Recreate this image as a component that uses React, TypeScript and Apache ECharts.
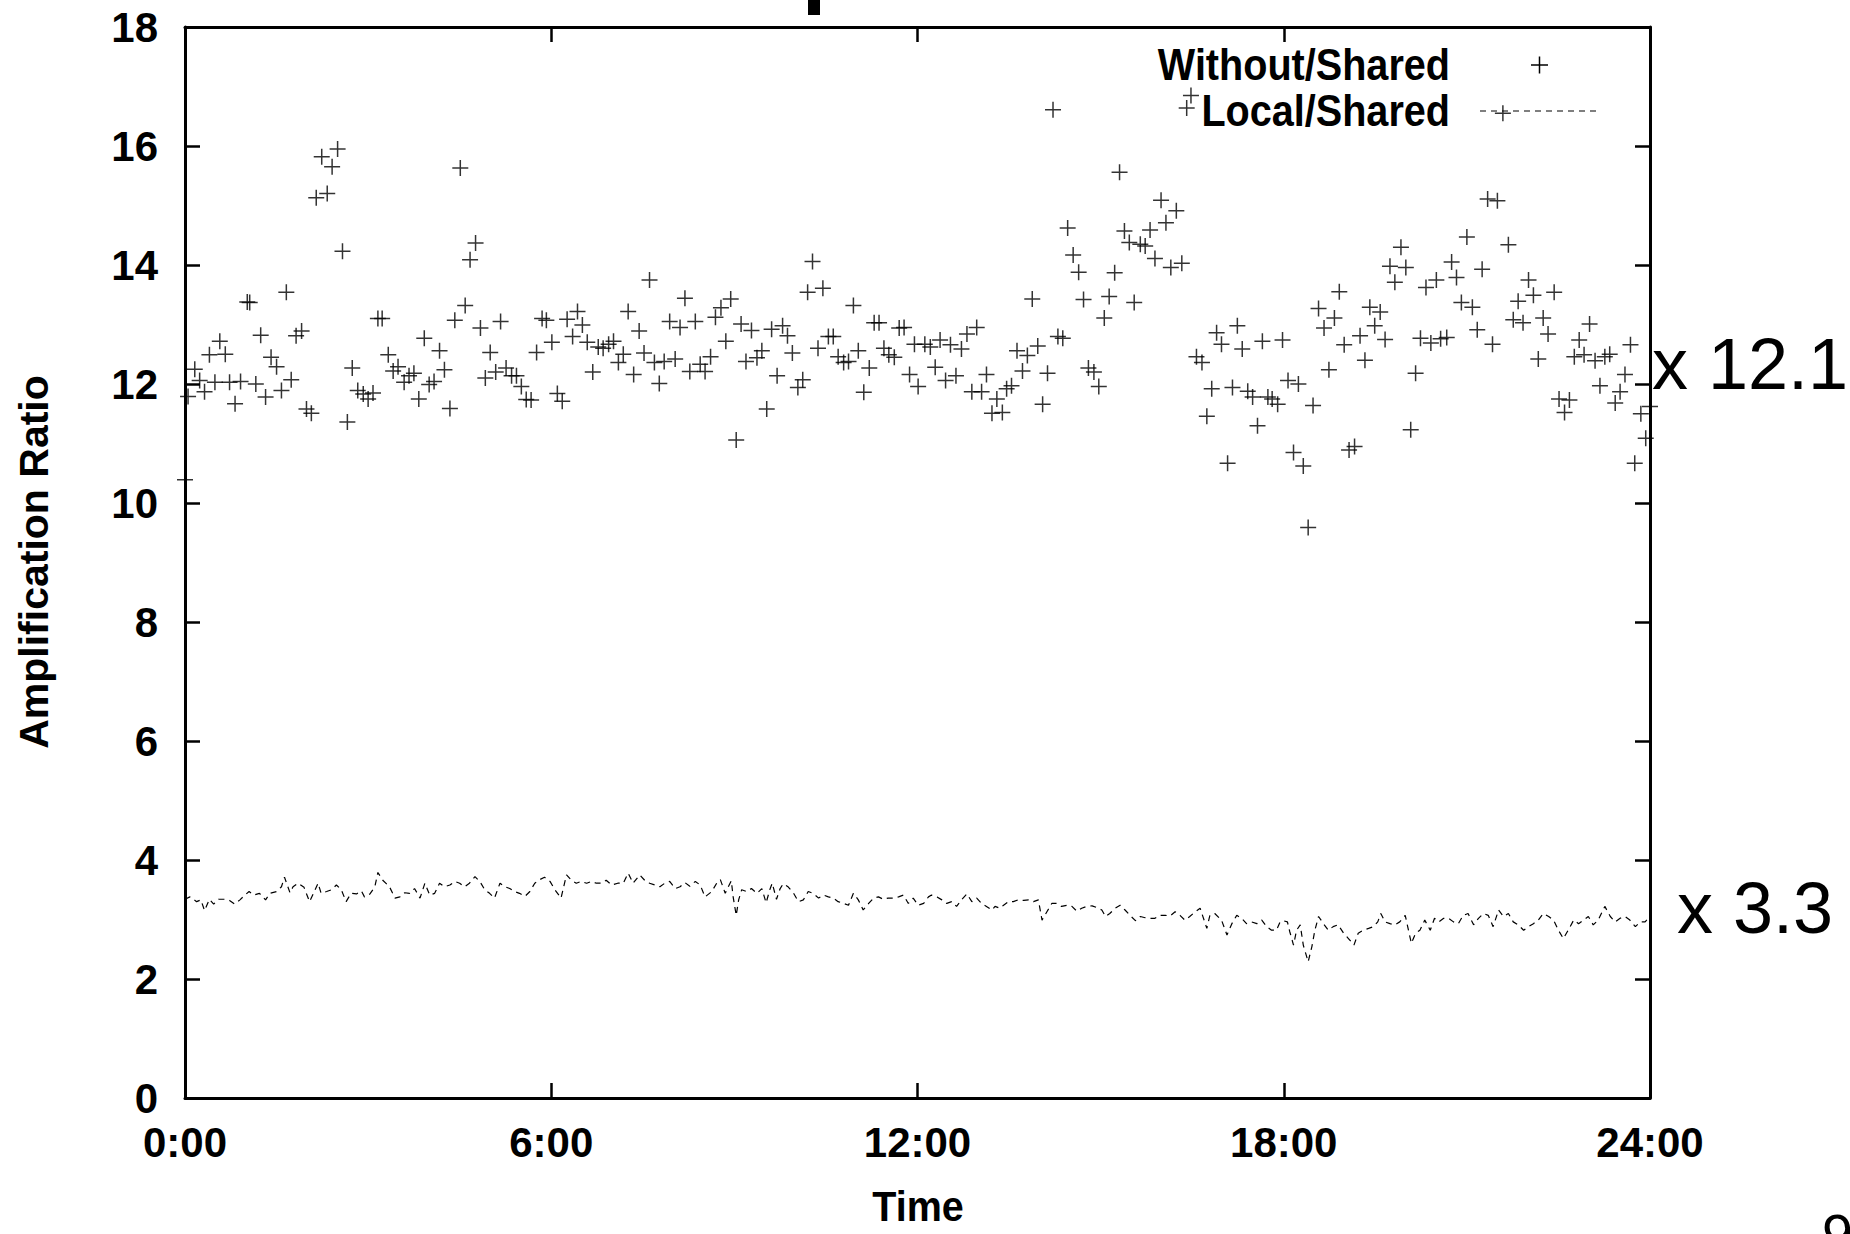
import React, { useEffect, useRef } from "react";
import * as echarts from "echarts";

// ---------- data (time in hours, ratio) ----------
const X_TICKS = [0, 6, 12, 18, 24];
const Y_MIN = 0;
const Y_MAX = 18;
const Y_STEP = 2;

const seriesNames = ["Without/Shared", "Local/Shared"];
const ratioNotes = ["x 12.1", "x 3.3"];

const withoutShared: [number, number][] = [
  [0.0, 10.39], [0.05, 11.79], [0.16, 12.25], [0.24, 12.06], [0.32, 11.87], [0.4, 12.49], [0.49, 12.03],
  [0.57, 12.72], [0.66, 12.5], [0.73, 12.03], [0.82, 11.67], [0.91, 12.04], [1.02, 13.38], [1.06, 13.37],
  [1.16, 12.0], [1.24, 12.82], [1.32, 11.78], [1.41, 12.45], [1.5, 12.29], [1.58, 11.89], [1.66, 13.54],
  [1.74, 12.07], [1.82, 12.81], [1.91, 12.89], [1.99, 11.58], [2.07, 11.51], [2.15, 15.13], [2.24, 15.82],
  [2.33, 15.2], [2.41, 15.65], [2.5, 15.95], [2.58, 14.23], [2.66, 11.36], [2.74, 12.27], [2.83, 11.89],
  [2.92, 11.83], [3.0, 11.75], [3.08, 11.85], [3.16, 13.1], [3.23, 13.1], [3.33, 12.49], [3.41, 12.22],
  [3.49, 12.29], [3.59, 12.03], [3.67, 12.14], [3.75, 12.18], [3.83, 11.75], [3.92, 12.77], [4.0, 11.99],
  [4.08, 12.04], [4.17, 12.56], [4.25, 12.24], [4.34, 11.59], [4.42, 13.07], [4.51, 15.63], [4.59, 13.32],
  [4.67, 14.09], [4.76, 14.37], [4.84, 12.94], [4.92, 12.1], [5.0, 12.53], [5.09, 12.2], [5.17, 13.05],
  [5.26, 12.27], [5.35, 12.14], [5.43, 12.14], [5.51, 11.96], [5.59, 11.74], [5.67, 11.73], [5.76, 12.53],
  [5.85, 13.1], [5.92, 13.07], [6.01, 12.7], [6.1, 11.84], [6.18, 11.71], [6.26, 13.09], [6.35, 12.8],
  [6.43, 13.22], [6.51, 12.99], [6.59, 12.7], [6.68, 12.2], [6.77, 12.62], [6.85, 12.6], [6.94, 12.67],
  [7.02, 12.72], [7.1, 12.36], [7.18, 12.5], [7.26, 13.22], [7.35, 12.16], [7.44, 12.89], [7.52, 12.52],
  [7.61, 13.75], [7.69, 12.36], [7.77, 12.01], [7.85, 12.38], [7.94, 13.05], [8.03, 12.42], [8.11, 12.95],
  [8.19, 13.44], [8.27, 12.21], [8.36, 13.05], [8.44, 12.33], [8.52, 12.21], [8.61, 12.46], [8.69, 13.12],
  [8.78, 13.28], [8.86, 12.72], [8.94, 13.43], [9.03, 11.06], [9.11, 13.01], [9.19, 12.38], [9.28, 12.9],
  [9.37, 12.44], [9.45, 12.56], [9.53, 11.58], [9.61, 12.92], [9.7, 12.14], [9.79, 12.98], [9.87, 12.81],
  [9.95, 12.52], [10.04, 11.94], [10.12, 12.07], [10.2, 13.54], [10.28, 14.06], [10.37, 12.6], [10.45, 13.61],
  [10.54, 12.8], [10.62, 12.8], [10.7, 12.46], [10.79, 12.36], [10.87, 12.38], [10.95, 13.32], [11.03, 12.56],
  [11.12, 11.86], [11.21, 12.27], [11.29, 13.03], [11.37, 13.03], [11.45, 12.6], [11.53, 12.49], [11.62, 12.45],
  [11.7, 12.94], [11.78, 12.95], [11.87, 12.16], [11.95, 12.67], [12.01, 11.96], [12.12, 12.67], [12.21, 12.62],
  [12.29, 12.28], [12.37, 12.74], [12.46, 12.06], [12.54, 12.66], [12.63, 12.14], [12.72, 12.59], [12.81, 12.84],
  [12.89, 11.87], [12.97, 12.95], [13.05, 11.87], [13.13, 12.16], [13.22, 11.51], [13.3, 11.75], [13.39, 11.52],
  [13.46, 11.92], [13.54, 11.97], [13.63, 12.56], [13.72, 12.22], [13.8, 12.48], [13.88, 13.43], [13.97, 12.64],
  [14.05, 11.66], [14.13, 12.18], [14.22, 16.61], [14.3, 12.8], [14.38, 12.77], [14.46, 14.62], [14.55, 14.17],
  [14.64, 13.88], [14.72, 13.42], [14.8, 12.27], [14.89, 12.2], [14.97, 11.96], [15.06, 13.11], [15.14, 13.47],
  [15.23, 13.87], [15.31, 15.56], [15.39, 14.57], [15.47, 14.38], [15.55, 13.37], [15.65, 14.35], [15.73, 14.32],
  [15.81, 14.59], [15.89, 14.11], [15.99, 15.09], [16.07, 14.71], [16.15, 13.96], [16.24, 14.91], [16.33, 14.03],
  [16.41, 16.64], [16.48, 16.85], [16.57, 12.46], [16.66, 12.36], [16.74, 11.46], [16.82, 11.92], [16.9, 12.86],
  [16.98, 12.67], [17.08, 10.67], [17.16, 11.94], [17.24, 12.98], [17.32, 12.59], [17.41, 11.88], [17.49, 11.78],
  [17.57, 11.3], [17.65, 12.72], [17.74, 11.78], [17.81, 11.75], [17.9, 11.66], [17.98, 12.74], [18.07, 12.06],
  [18.16, 10.85], [18.24, 12.0], [18.32, 10.62], [18.4, 9.59], [18.48, 11.64], [18.57, 13.27], [18.66, 12.94],
  [18.74, 12.24], [18.83, 13.11], [18.91, 13.55], [18.99, 12.66], [19.07, 10.89], [19.16, 10.95], [19.25, 12.81],
  [19.33, 12.4], [19.41, 13.29], [19.49, 12.98], [19.58, 13.21], [19.66, 12.75], [19.74, 13.98], [19.82, 13.71],
  [19.92, 14.3], [20.0, 13.96], [20.08, 11.23], [20.16, 12.18], [20.24, 12.77], [20.33, 13.62], [20.41, 12.69],
  [20.5, 13.75], [20.57, 12.76], [20.67, 12.78], [20.75, 14.05], [20.83, 13.79], [20.91, 13.37], [21.0, 14.47],
  [21.09, 13.29], [21.17, 12.91], [21.25, 13.93], [21.34, 15.11], [21.42, 12.67], [21.5, 15.08], [21.59, 16.55],
  [21.68, 14.34], [21.76, 13.08], [21.84, 13.39], [21.92, 13.03], [22.01, 13.75], [22.09, 13.49], [22.17, 12.42],
  [22.25, 13.11], [22.33, 12.84], [22.43, 13.54], [22.51, 11.75], [22.6, 11.52], [22.68, 11.73], [22.76, 12.46],
  [22.84, 12.74], [22.92, 12.49], [23.01, 13.01], [23.1, 12.39], [23.18, 11.97], [23.26, 12.46], [23.34, 12.5],
  [23.43, 11.68], [23.51, 11.87], [23.59, 12.16], [23.68, 12.66], [23.75, 10.67], [23.85, 11.5], [23.93, 11.09],
  [24.0, 11.62],
];

const localShared: [number, number][] = [
  [0.0, 3.34], [0.08, 3.38], [0.19, 3.3], [0.26, 3.33], [0.32, 3.15], [0.4, 3.34], [0.47, 3.26], [0.55, 3.34],
  [0.65, 3.34], [0.73, 3.32], [0.81, 3.26], [0.9, 3.33], [0.98, 3.41], [1.05, 3.47], [1.13, 3.41], [1.22, 3.44],
  [1.32, 3.33], [1.39, 3.44], [1.5, 3.47], [1.58, 3.55], [1.63, 3.71], [1.72, 3.45], [1.77, 3.55], [1.85, 3.61],
  [1.95, 3.54], [2.04, 3.3], [2.1, 3.43], [2.18, 3.61], [2.23, 3.44], [2.32, 3.47], [2.4, 3.5], [2.48, 3.58],
  [2.56, 3.5], [2.64, 3.3], [2.72, 3.44], [2.81, 3.43], [2.89, 3.48], [2.94, 3.38], [3.03, 3.43], [3.11, 3.55],
  [3.16, 3.79], [3.24, 3.66], [3.35, 3.55], [3.44, 3.36], [3.52, 3.38], [3.6, 3.45], [3.68, 3.44], [3.76, 3.52],
  [3.85, 3.36], [3.93, 3.61], [4.01, 3.41], [4.09, 3.44], [4.17, 3.61], [4.25, 3.55], [4.34, 3.58], [4.42, 3.64],
  [4.5, 3.61], [4.58, 3.55], [4.66, 3.61], [4.75, 3.72], [4.83, 3.64], [4.91, 3.5], [4.99, 3.44], [5.07, 3.36],
  [5.16, 3.61], [5.24, 3.55], [5.32, 3.52], [5.4, 3.47], [5.48, 3.44], [5.57, 3.39], [5.65, 3.47], [5.73, 3.61],
  [5.81, 3.67], [5.89, 3.71], [5.98, 3.64], [6.06, 3.5], [6.16, 3.36], [6.25, 3.75], [6.33, 3.66], [6.41, 3.61],
  [6.49, 3.64], [6.58, 3.61], [6.66, 3.64], [6.74, 3.61], [6.82, 3.61], [6.9, 3.66], [6.99, 3.58], [7.09, 3.61],
  [7.18, 3.61], [7.26, 3.78], [7.34, 3.61], [7.45, 3.75], [7.53, 3.66], [7.61, 3.61], [7.7, 3.58], [7.78, 3.55],
  [7.86, 3.61], [7.94, 3.64], [8.03, 3.52], [8.11, 3.55], [8.19, 3.62], [8.27, 3.56], [8.36, 3.64], [8.44, 3.58],
  [8.52, 3.38], [8.63, 3.47], [8.71, 3.61], [8.77, 3.67], [8.85, 3.44], [8.9, 3.55], [8.95, 3.65], [8.98, 3.38],
  [9.03, 3.07], [9.07, 3.33], [9.12, 3.5], [9.2, 3.47], [9.28, 3.52], [9.37, 3.44], [9.45, 3.52], [9.52, 3.28],
  [9.58, 3.5], [9.62, 3.61], [9.69, 3.34], [9.75, 3.52], [9.8, 3.6], [9.88, 3.55], [9.97, 3.44], [10.05, 3.3],
  [10.13, 3.33], [10.21, 3.47], [10.29, 3.44], [10.38, 3.36], [10.46, 3.41], [10.54, 3.38], [10.62, 3.36],
  [10.7, 3.3], [10.79, 3.27], [10.87, 3.24], [10.95, 3.44], [11.03, 3.33], [11.11, 3.16], [11.2, 3.27],
  [11.28, 3.36], [11.36, 3.38], [11.44, 3.34], [11.52, 3.36], [11.61, 3.36], [11.69, 3.38], [11.77, 3.41],
  [11.85, 3.27], [11.93, 3.36], [12.01, 3.24], [12.1, 3.27], [12.18, 3.38], [12.23, 3.41], [12.32, 3.38],
  [12.4, 3.33], [12.48, 3.27], [12.56, 3.3], [12.64, 3.22], [12.72, 3.33], [12.81, 3.43], [12.89, 3.3],
  [12.97, 3.36], [13.05, 3.27], [13.13, 3.22], [13.22, 3.16], [13.27, 3.22], [13.35, 3.19], [13.41, 3.24],
  [13.49, 3.3], [13.57, 3.3], [13.65, 3.33], [13.74, 3.32], [13.82, 3.33], [13.9, 3.3], [13.98, 3.33],
  [14.04, 2.99], [14.12, 3.13], [14.2, 3.27], [14.28, 3.27], [14.36, 3.22], [14.45, 3.24], [14.53, 3.22],
  [14.61, 3.14], [14.69, 3.19], [14.77, 3.22], [14.86, 3.23], [14.94, 3.2], [15.02, 3.16], [15.08, 3.05],
  [15.15, 3.1], [15.24, 3.19], [15.32, 3.24], [15.4, 3.16], [15.48, 3.07], [15.57, 2.98], [15.65, 3.05],
  [15.73, 3.03], [15.81, 3.02], [15.89, 3.02], [15.97, 3.07], [16.06, 3.07], [16.14, 3.06], [16.22, 3.13],
  [16.3, 3.07], [16.38, 2.99], [16.46, 3.05], [16.55, 3.13], [16.63, 3.19], [16.74, 2.85], [16.79, 3.07],
  [16.87, 3.1], [16.98, 2.99], [17.07, 2.74], [17.15, 2.93], [17.23, 3.07], [17.31, 3.02], [17.39, 2.93],
  [17.47, 2.96], [17.56, 2.93], [17.64, 2.99], [17.72, 2.88], [17.8, 2.82], [17.88, 2.82], [17.94, 2.96],
  [17.99, 2.98], [18.06, 2.96], [18.1, 2.79], [18.16, 2.57], [18.21, 2.82], [18.27, 2.91], [18.32, 2.57],
  [18.4, 2.29], [18.46, 2.54], [18.51, 2.82], [18.57, 3.05], [18.65, 2.93], [18.73, 2.82], [18.81, 2.88],
  [18.89, 2.91], [18.98, 2.77], [19.06, 2.68], [19.15, 2.57], [19.22, 2.77], [19.3, 2.82], [19.39, 2.85],
  [19.47, 2.88], [19.54, 2.96], [19.59, 3.1], [19.66, 2.96], [19.74, 2.93], [19.82, 2.91], [19.9, 2.96],
  [19.99, 3.07], [20.09, 2.6], [20.16, 2.77], [20.23, 2.82], [20.31, 2.99], [20.4, 2.82], [20.47, 3.02],
  [20.54, 2.96], [20.62, 3.02], [20.7, 3.02], [20.78, 2.96], [20.86, 2.93], [20.94, 3.07], [21.02, 3.1],
  [21.11, 2.91], [21.19, 3.02], [21.27, 3.1], [21.35, 3.07], [21.43, 2.88], [21.52, 3.16], [21.6, 3.05],
  [21.68, 3.1], [21.76, 2.96], [21.84, 2.91], [21.93, 2.82], [22.01, 2.88], [22.09, 2.93], [22.17, 2.99],
  [22.25, 3.1], [22.34, 3.05], [22.42, 2.99], [22.5, 2.82], [22.58, 2.68], [22.66, 2.82], [22.75, 2.99],
  [22.83, 2.93], [22.91, 2.99], [22.99, 3.05], [23.07, 2.91], [23.15, 2.99], [23.26, 3.22], [23.35, 3.05],
  [23.43, 2.96], [23.51, 3.02], [23.59, 3.05], [23.67, 2.99], [23.76, 2.88], [23.84, 2.96], [23.92, 2.96],
  [23.97, 3.02], [24.0, 3.0],
];

// ---------- styling ----------
const BOLD = "'Liberation Sans', Arial, Helvetica, sans-serif";
const REGULAR = "'Liberation Sans', Arial, Helvetica, sans-serif";
const PLUS = "path://M0,7.25H16V8.75H0Z M7.25,0H8.75V16H7.25Z";

const GRID = { left: 185, top: 27, width: 1465, height: 1071 };

function axisCommon() {
  return {
    axisLine: { show: true, onZero: false, lineStyle: { color: "#000", width: 3 } },
    axisTick: { show: true, inside: true, length: 15, lineStyle: { color: "#000", width: 2.5 } },
    splitLine: { show: false },
  };
}

function boldText(text: string, x: number, y: number, size: number, align: string, extra: any = {}) {
  return {
    type: "text",
    x,
    y,
    ...extra,
    style: {
      text,
      fontFamily: BOLD,
      fontWeight: "bold",
      fontSize: size,
      fill: "#000",
      align,
      verticalAlign: "middle",
    },
  };
}

export default function App() {
  const ref = useRef<HTMLDivElement>(null);

  useEffect(() => {
    if (!ref.current) return;
    const chart = echarts.init(ref.current, undefined, { renderer: "svg" });
    const xMin = X_TICKS[0];
    const xMax = X_TICKS[X_TICKS.length - 1];
    const xStep = X_TICKS[1] - X_TICKS[0];

    const option: any = {
      animation: false,
      backgroundColor: "#ffffff",
      grid: { ...GRID, containLabel: false },
      xAxis: [
        {
          type: "value",
          position: "bottom",
          min: xMin,
          max: xMax,
          interval: xStep,
          ...axisCommon(),
          axisLabel: {
            formatter: (v: number) => `${v}:00`,
            fontFamily: BOLD,
            fontWeight: "bold",
            fontSize: 42,
            color: "#000",
            margin: 23,
          },
        },
        {
          type: "value",
          position: "top",
          min: xMin,
          max: xMax,
          interval: xStep,
          ...axisCommon(),
          axisLabel: { show: false },
        },
      ],
      yAxis: [
        {
          type: "value",
          position: "left",
          min: Y_MIN,
          max: Y_MAX,
          interval: Y_STEP,
          ...axisCommon(),
          axisLabel: {
            fontFamily: BOLD,
            fontWeight: "bold",
            fontSize: 42,
            color: "#000",
            margin: 27,
          },
        },
        {
          type: "value",
          position: "right",
          min: Y_MIN,
          max: Y_MAX,
          interval: Y_STEP,
          ...axisCommon(),
          axisLabel: { show: false },
        },
      ],
      series: [
        {
          name: seriesNames[0],
          type: "scatter",
          data: withoutShared,
          symbol: PLUS,
          symbolSize: 16,
          itemStyle: { color: "#000" },
          clip: false,
          z: 3,
        },
        {
          name: seriesNames[1],
          type: "line",
          data: localShared,
          showSymbol: false,
          symbol: "none",
          lineStyle: { color: "#000", width: 1.2, type: [6, 5] },
          z: 2,
        },
      ],
      graphic: [
        boldText("Amplification Ratio", 34, 562, 41, "center", { rotation: Math.PI / 2 }),
        boldText("Time", 918, 1206, 43, "center", { scaleX: 0.92 }),
        boldText(seriesNames[0], 1450, 65, 44, "right", { scaleX: 0.9 }),
        boldText(seriesNames[1], 1450, 111, 44, "right", { scaleX: 0.9 }),
        {
          type: "line",
          shape: { x1: 1531, y1: 65, x2: 1548, y2: 65 },
          style: { stroke: "#000", lineWidth: 1.5 },
        },
        {
          type: "line",
          shape: { x1: 1539.5, y1: 56.5, x2: 1539.5, y2: 73.5 },
          style: { stroke: "#000", lineWidth: 1.5 },
        },
        {
          type: "line",
          shape: { x1: 1480, y1: 111, x2: 1600, y2: 111 },
          style: { stroke: "#000", lineWidth: 1.2, lineDash: [6, 5] },
        },
        {
          type: "text",
          x: 1652,
          y: 364,
          style: {
            text: ratioNotes[0],
            fontFamily: REGULAR,
            fontSize: 72,
            fill: "#000",
            align: "left",
            verticalAlign: "middle",
          },
        },
        {
          type: "text",
          x: 1677,
          y: 908,
          style: {
            text: ratioNotes[1],
            fontFamily: REGULAR,
            fontSize: 72,
            fill: "#000",
            align: "left",
            verticalAlign: "middle",
          },
        },
        {
          type: "text",
          x: 1822,
          y: 1205,
          style: {
            text: "9",
            fontFamily: REGULAR,
            fontSize: 56,
            fill: "#000",
            align: "left",
            verticalAlign: "top",
          },
        },
        {
          type: "rect",
          shape: { x: 808, y: 0, width: 12, height: 15 },
          style: { fill: "#000" },
        },
      ],
    };

    chart.setOption(option);
    return () => chart.dispose();
  }, []);

  return (
    <div
      ref={ref}
      style={{ position: "fixed", left: 0, top: 0, width: 1850, height: 1234, background: "#fff" }}
    />
  );
}
